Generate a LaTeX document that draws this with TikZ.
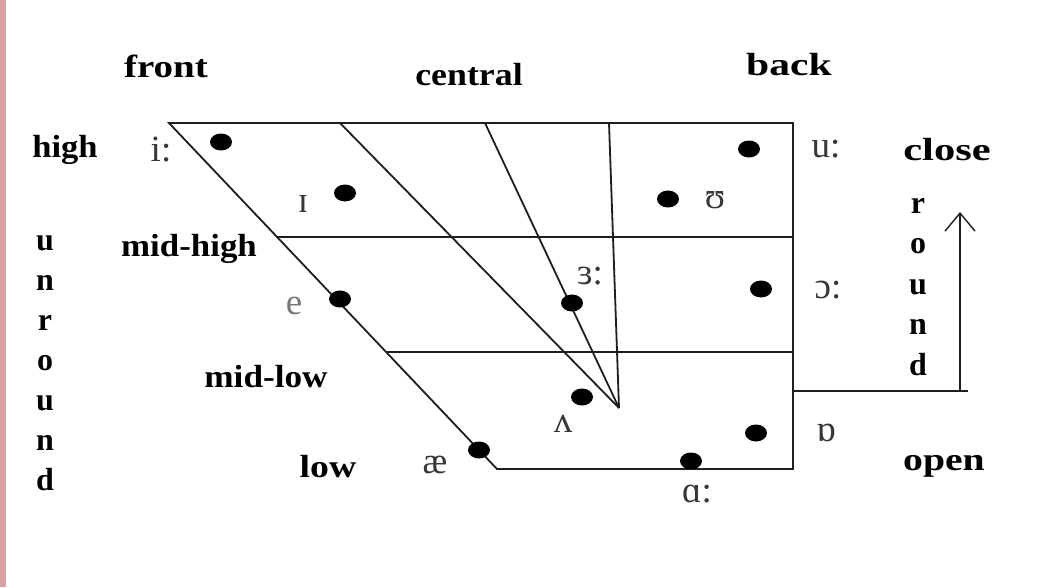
\documentclass[tikz,border=0pt]{standalone}
\usepackage{fontspec}
\setmainfont{Liberation Serif}
\usetikzlibrary{shapes.geometric,arrows.meta}
\definecolor{sidebar}{RGB}{217,160,160}
\definecolor{ink}{RGB}{30,30,30}
\definecolor{ipa}{RGB}{55,55,55}
\definecolor{ipalight}{RGB}{120,120,120}
% horizontally widened label text
\newcommand\stretchx[2]{\scalebox{#1}[1]{#2}}
\begin{document}
\begin{tikzpicture}[x=1pt,y=-1pt,
  chart/.style={draw=ink,line width=1.8pt},
  dot/.style={ellipse,fill=black,draw=none,minimum width=22pt,minimum height=17pt,inner sep=0pt},
  lbl/.style={font=\bfseries\fontsize{32}{32}\selectfont,text=black,inner sep=0pt,anchor=base},
  sym/.style={font=\fontsize{37}{37}\selectfont,text=ipa,inner sep=0pt}]
\useasboundingbox (0,0) rectangle (1049,587);
\fill[white] (0,0) rectangle (1049,587);
\fill[sidebar] (0,0) rectangle (6,587);

% corners of the vowel quadrilateral
\coordinate (TL) at (169,123);
\coordinate (TR) at (793,123);
\coordinate (BR) at (793,469);
\coordinate (BL) at (497,469);
\coordinate (MHl) at (276,237);
\coordinate (MHr) at (793,237);
\coordinate (MLl) at (387,352);
\coordinate (MLr) at (793,352);
% fan of central lines
\coordinate (F)  at (619,408);
\coordinate (T1) at (340,123);
\coordinate (T2) at (485,123);
\coordinate (T3) at (609,123);
% rounding bracket and arrow
\coordinate (RB0) at (793,391);
\coordinate (RB1) at (968,391);
\coordinate (A0)  at (960,391);
\coordinate (A1)  at (960,212);

\draw[chart] (TL) -- (TR) -- (BR) -- (BL) -- cycle;
\draw[chart] (MHl) -- (MHr);
\draw[chart] (MLl) -- (MLr);
\draw[chart] (T1) -- (F);
\draw[chart] (T2) -- (F);
\draw[chart] (T3) -- (F);
\draw[ink,line width=1.6pt] (RB0) -- (RB1);
\draw[ink,line width=1.6pt,-{Straight Barb[length=18pt,width=30pt,line width=1.4pt]}] (A0) -- (A1);

% vowel points
\node[dot] (p-i)  at (221,142) {};
\node[dot] (p-I)  at (345,193) {};
\node[dot] (p-e)  at (340,299) {};
\node[dot] (p-3)  at (572,303) {};
\node[dot] (p-V)  at (582,397) {};
\node[dot] (p-ae) at (479,450) {};
\node[dot] (p-a)  at (691,461) {};
\node[dot] (p-Q)  at (756,433) {};
\node[dot] (p-u)  at (749,149) {};
\node[dot] (p-U)  at (668,199) {};
\node[dot] (p-O)  at (761,289) {};

% vowel symbols
\node[sym] (s-i)  at (161,150) {i:};
\node[sym] (s-I)  at (303,204) {ɪ};
\node[sym,text=ipalight] (s-e) at (294,306) {e};
\node[sym] (s-3)  at (590,276) {ɜ:};
\node[sym] (s-V)  at (563,424) {ʌ};
\node[sym] (s-ae) at (435,465) {æ};
\node[sym] (s-a)  at (697,494) {ɑ:};
\node[sym] (s-Q)  at (826,433) {ɒ};
\node[sym] (s-u)  at (826,149) {u:};
\node[sym] (s-U)  at (715,200) {ʊ};
\node[sym] (s-O)  at (828,290) {ɔ:};

% axis labels
\node[lbl] (front)   at (166,77)  {\stretchx{1.22}{front}};
\node[lbl] (central) at (469,85)  {\stretchx{1.12}{central}};
\node[lbl] (back)    at (789,75)  {\stretchx{1.3}{back}};
\node[lbl] (high)    at (65,157)  {\stretchx{1.08}{high}};
\node[lbl] (midhigh) at (189,256) {\stretchx{1.09}{mid-high}};
\node[lbl] (midlow)  at (266,387) {\stretchx{1.1}{mid-low}};
\node[lbl] (low)     at (328,477) {\stretchx{1.18}{low}};
\node[lbl] (close)   at (947,160) {\stretchx{1.33}{close}};
\node[lbl] (open)    at (944,470) {\stretchx{1.24}{open}};

% vertical words
\foreach \c [count=\k] in {u,n,r,o,u,n,d}
  \node[lbl] (unr\k) at (45,{250+40*(\k-1)}) {\c};
\foreach \c [count=\k] in {r,o,u,n,d}
  \node[lbl] (rnd\k) at (918,{213+40.5*(\k-1)}) {\c};
\end{tikzpicture}
\end{document}
